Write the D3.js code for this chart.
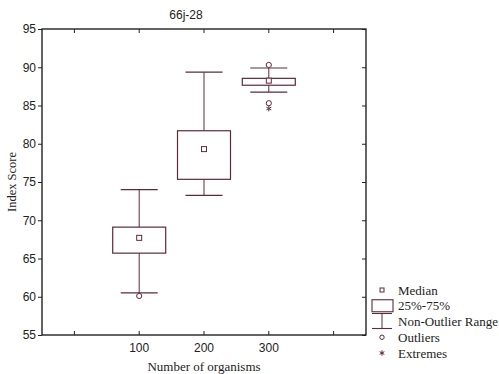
<!DOCTYPE html>
<html>
<head>
<meta charset="utf-8">
<script src="https://cdn.jsdelivr.net/npm/d3@7"></script>
<style>
  html, body { margin: 0; padding: 0; background: #fff; }
  svg { display: block; }
</style>
</head>
<body>
<svg id="chart" width="499" height="374"></svg>
<script>
// Box plot data per group (Index Score vs number of organisms)
const categories = ["100", "200", "300"];
const medians    = [67.7, 79.3, 88.25];
const q1         = [65.7, 75.35, 87.65];
const q3         = [69.1, 81.7, 88.55];
const whiskerLow = [60.5, 73.25, 86.75];
const whiskerHigh= [74.0, 89.35, 89.9];
const outliers   = [[60.1], [], [90.3, 85.3]];
const extremes   = [[], [], [84.6]];

const yTicks = [55, 60, 65, 70, 75, 80, 85, 90, 95];
const legendLabels = ["Median", "25%-75%", "Non-Outlier Range", "Outliers", "Extremes"];

const title = "66j-28";
const xTitle = "Number of organisms";
const yTitle = "Index Score";

const W = 499, H = 374;
const plot = { left: 42, right: 366, top: 29, bottom: 335 };
const lineColor = "#5e2a3a";
const serif = "'Liberation Serif', 'Times New Roman', serif";
const sans = "'Liberation Sans Narrow', 'Liberation Sans', Arial, sans-serif";

const svg = d3.select("#chart");

// Five slots along x: an empty slot either side of the three groups
const slots = [0, 1, 2, 3, 4];
const slotLabel = i => (i >= 1 && i <= categories.length) ? categories[i - 1] : "";
const x = d3.scaleBand().domain(slots).range([plot.left, plot.right]).padding(0);
const cx = i => x(i) + x.bandwidth() / 2;

const y = d3.scaleLinear().domain([55, 95]).range([plot.bottom, plot.top]);

// Frame
svg.append("rect")
  .attr("x", plot.left).attr("y", plot.top)
  .attr("width", plot.right - plot.left).attr("height", plot.bottom - plot.top)
  .attr("fill", "none").attr("stroke", "#111").attr("stroke-width", 1.3);

// Left axis: labels and outward ticks
const leftAxis = d3.axisLeft(y).tickValues(yTicks).tickSize(4).tickPadding(2).tickFormat(d3.format("d"));
const gl = svg.append("g").attr("transform", `translate(${plot.left},0)`).call(leftAxis);
gl.select(".domain").remove();
gl.selectAll("text").attr("font-family", sans).attr("font-size", 12).attr("fill", "#222");
gl.selectAll("line").attr("stroke", "#222");

// Right axis: inward ticks, no labels
const rightAxis = d3.axisRight(y).tickValues(yTicks).tickSize(-4).tickFormat("");
const gr = svg.append("g").attr("transform", `translate(${plot.right},0)`).call(rightAxis);
gr.select(".domain").remove();
gr.selectAll("line").attr("stroke", "#222");

// Bottom axis: inward ticks, group labels
const bottomAxis = d3.axisBottom(x).tickSize(-4).tickPadding(8).tickFormat(slotLabel);
const gb = svg.append("g").attr("transform", `translate(0,${plot.bottom})`).call(bottomAxis);
gb.select(".domain").remove();
gb.selectAll("text").attr("font-family", sans).attr("font-size", 12).attr("fill", "#222");
gb.selectAll("line").attr("stroke", "#222");

// Top axis: inward ticks
const topAxis = d3.axisTop(x).tickSize(-4).tickFormat("");
const gt = svg.append("g").attr("transform", `translate(0,${plot.top})`).call(topAxis);
gt.select(".domain").remove();
gt.selectAll("line").attr("stroke", "#222");

// Boxes
const boxW = 53, capW = 37;
categories.forEach((c, k) => {
  const i = k + 1;
  const xc = cx(i);
  const g = svg.append("g");
  // whisker stem
  g.append("line").attr("x1", xc).attr("x2", xc)
    .attr("y1", y(whiskerHigh[k])).attr("y2", y(whiskerLow[k]))
    .attr("stroke", lineColor).attr("stroke-width", 1);
  // caps
  [whiskerHigh[k], whiskerLow[k]].forEach(v => {
    g.append("line").attr("x1", xc - capW / 2).attr("x2", xc + capW / 2)
      .attr("y1", y(v)).attr("y2", y(v))
      .attr("stroke", lineColor).attr("stroke-width", 1.2);
  });
  // box
  g.append("rect")
    .attr("x", xc - boxW / 2).attr("y", y(q3[k]))
    .attr("width", boxW).attr("height", y(q1[k]) - y(q3[k]))
    .attr("fill", "#fff").attr("stroke", lineColor).attr("stroke-width", 1.2);
  // median
  g.append("rect")
    .attr("x", xc - 2.5).attr("y", y(medians[k]) - 2.5)
    .attr("width", 5).attr("height", 5)
    .attr("fill", "#fff").attr("stroke", lineColor).attr("stroke-width", 1);
  // outliers
  outliers[k].forEach(v => {
    g.append("circle").attr("cx", xc).attr("cy", y(v)).attr("r", 2.6)
      .attr("fill", "#fff").attr("stroke", lineColor).attr("stroke-width", 1);
  });
  // extremes
  extremes[k].forEach(v => {
    g.append("path").attr("d", d3.symbol(d3.symbolAsterisk, 22)())
      .attr("transform", `translate(${xc},${y(v)})`)
      .attr("fill", "none").attr("stroke", lineColor).attr("stroke-width", 1);
  });
});

// Title and axis titles
svg.append("text").attr("x", 186).attr("y", 19).attr("text-anchor", "middle")
  .attr("font-family", sans).attr("font-size", 12).attr("fill", "#222").text(title);
svg.append("text").attr("x", (plot.left + plot.right) / 2).attr("y", 371).attr("text-anchor", "middle")
  .attr("font-family", serif).attr("font-size", 13).attr("fill", "#222").text(xTitle);
svg.append("text")
  .attr("transform", `translate(16,${(plot.top + plot.bottom) / 2}) rotate(-90)`)
  .attr("text-anchor", "middle")
  .attr("font-family", serif).attr("font-size", 12.5).attr("fill", "#222").text(yTitle);

// Legend
const lg = svg.append("g");
const legendY = d3.scalePoint().domain(legendLabels).range([290, 353]);
const ix = 382;
legendLabels.forEach((lab, i) => {
  const yy = legendY(lab);
  lg.append("text").attr("x", 398).attr("y", yy + 4.5)
    .attr("font-family", serif).attr("font-size", 13).attr("fill", "#222").text(lab);
  if (i === 0) {
    lg.append("rect").attr("x", ix - 2).attr("y", yy - 2).attr("width", 4).attr("height", 4)
      .attr("fill", "#fff").attr("stroke", lineColor).attr("stroke-width", 1);
  } else if (i === 1) {
    lg.append("rect").attr("x", ix - 10).attr("y", yy - 6).attr("width", 21).attr("height", 12)
      .attr("fill", "#fff").attr("stroke", lineColor).attr("stroke-width", 1.1);
  } else if (i === 2) {
    lg.append("line").attr("x1", ix - 10).attr("x2", ix + 10).attr("y1", yy - 8).attr("y2", yy - 8)
      .attr("stroke", lineColor).attr("stroke-width", 1.1);
    lg.append("line").attr("x1", ix - 10).attr("x2", ix + 10).attr("y1", yy + 7).attr("y2", yy + 7)
      .attr("stroke", lineColor).attr("stroke-width", 1.1);
    lg.append("line").attr("x1", ix).attr("x2", ix).attr("y1", yy - 8).attr("y2", yy + 7)
      .attr("stroke", lineColor).attr("stroke-width", 1);
  } else if (i === 3) {
    lg.append("circle").attr("cx", ix).attr("cy", yy).attr("r", 2.2)
      .attr("fill", "#fff").attr("stroke", lineColor).attr("stroke-width", 1);
  } else {
    lg.append("path").attr("d", d3.symbol(d3.symbolAsterisk, 20)())
      .attr("transform", `translate(${ix},${yy})`)
      .attr("fill", "none").attr("stroke", lineColor).attr("stroke-width", 1);
  }
});
</script>
</body>
</html>
